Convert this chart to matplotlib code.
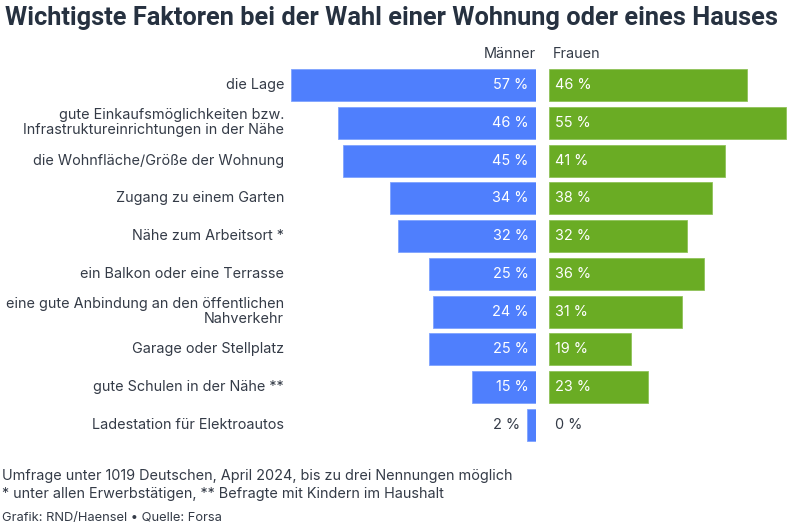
import matplotlib.pyplot as plt
from matplotlib.transforms import blended_transform_factory

labels = ["die Lage",
          "gute Einkaufsmöglichkeiten bzw.\nInfrastruktureinrichtungen in der Nähe",
          "die Wohnfläche/Größe der Wohnung",
          "Zugang zu einem Garten",
          "Nähe zum Arbeitsort *",
          "ein Balkon oder eine Terrasse",
          "eine gute Anbindung an den öffentlichen\nNahverkehr",
          "Garage oder Stellplatz",
          "gute Schulen in der Nähe **",
          "Ladestation für Elektroautos"]
maenner = [57, 46, 45, 34, 32, 25, 24, 25, 15, 2]
frauen = [46, 55, 41, 38, 32, 36, 31, 19, 23, 0]

W, H = 800, 526
blue = "#4f7ffd"
green = "#6aac24"
txt = "#343b47"
title_c = "#263140"
plt.rcParams['font.family'] = ['Inter', 'DejaVu Sans']

fig = plt.figure(figsize=(8, 5.26), dpi=100)
fig.patch.set_facecolor("white")

def fx(px):
    return px / W

def fy(py):
    return 1 - py / H

scale = 4.3  # px per percent
top, bottom = 66.1, 443.9
axL = fig.add_axes([fx(279), fy(bottom), fx(536 - 279), (bottom - top) / H])
axR = fig.add_axes([fx(549), fy(bottom), fx(800 - 549), (bottom - top) / H])
axL.set_xlim((536 - 279) / scale, 0)
axR.set_xlim(0, (800 - 549) / scale)
for ax in (axL, axR):
    ax.set_ylim(len(labels) - 0.5, -0.5)
    ax.axis("off")

ys = list(range(len(labels)))
axL.barh(ys, maenner, height=0.847, color=blue, edgecolor="#7fa3ff", linewidth=0.6)
axR.barh([y for y, f in zip(ys, frauen) if f > 0], [f for f in frauen if f > 0],
         height=0.847, color=green, edgecolor="#8fc35a", linewidth=0.6)

fs = 10.4
for i, (m, f) in enumerate(zip(maenner, frauen)):
    if m >= 8:
        axL.annotate(f"{m} %", (0, i), xytext=(-5.3, 0), textcoords="offset points",
                     ha="right", va="center", color="white", fontsize=fs)
    else:
        axL.annotate(f"{m} %", (m, i), xytext=(-5, 0), textcoords="offset points",
                     ha="right", va="center", color=txt, fontsize=fs)
    axR.annotate(f"{f} %", (0, i), xytext=(4.5, 0), textcoords="offset points",
                 ha="left", va="center", color="white" if f >= 8 else txt,
                 fontsize=fs)

tr = blended_transform_factory(fig.transFigure, axL.transData)
for i, lab in enumerate(labels):
    axL.text(fx(284), i, lab, transform=tr, ha="right", va="center",
             color=txt, fontsize=fs, linespacing=1.05)

fig.text(fx(536), fy(54), "Männer", ha="right", va="center", color=txt, fontsize=fs)
fig.text(fx(553), fy(54), "Frauen", ha="left", va="center", color=txt, fontsize=fs)

fig.text(fx(5), fy(18), "Wichtigste Faktoren bei der Wahl einer Wohnung oder eines Hauses",
         ha="left", va="center", color=title_c, fontsize=18.3, fontweight="bold",
         family="Roboto")

fig.text(fx(2), fy(476), "Umfrage unter 1019 Deutschen, April 2024, bis zu drei Nennungen möglich",
         ha="left", va="center", color=txt, fontsize=fs)
fig.text(fx(2), fy(494), "* unter allen Erwerbstätigen, ** Befragte mit Kindern im Haushalt",
         ha="left", va="center", color=txt, fontsize=fs)
fig.text(fx(2), fy(518), "Grafik: RND/Haensel • Quelle: Forsa",
         ha="left", va="center", color=txt, fontsize=9.3)

fig.savefig("out.png", dpi=100, facecolor="white")
